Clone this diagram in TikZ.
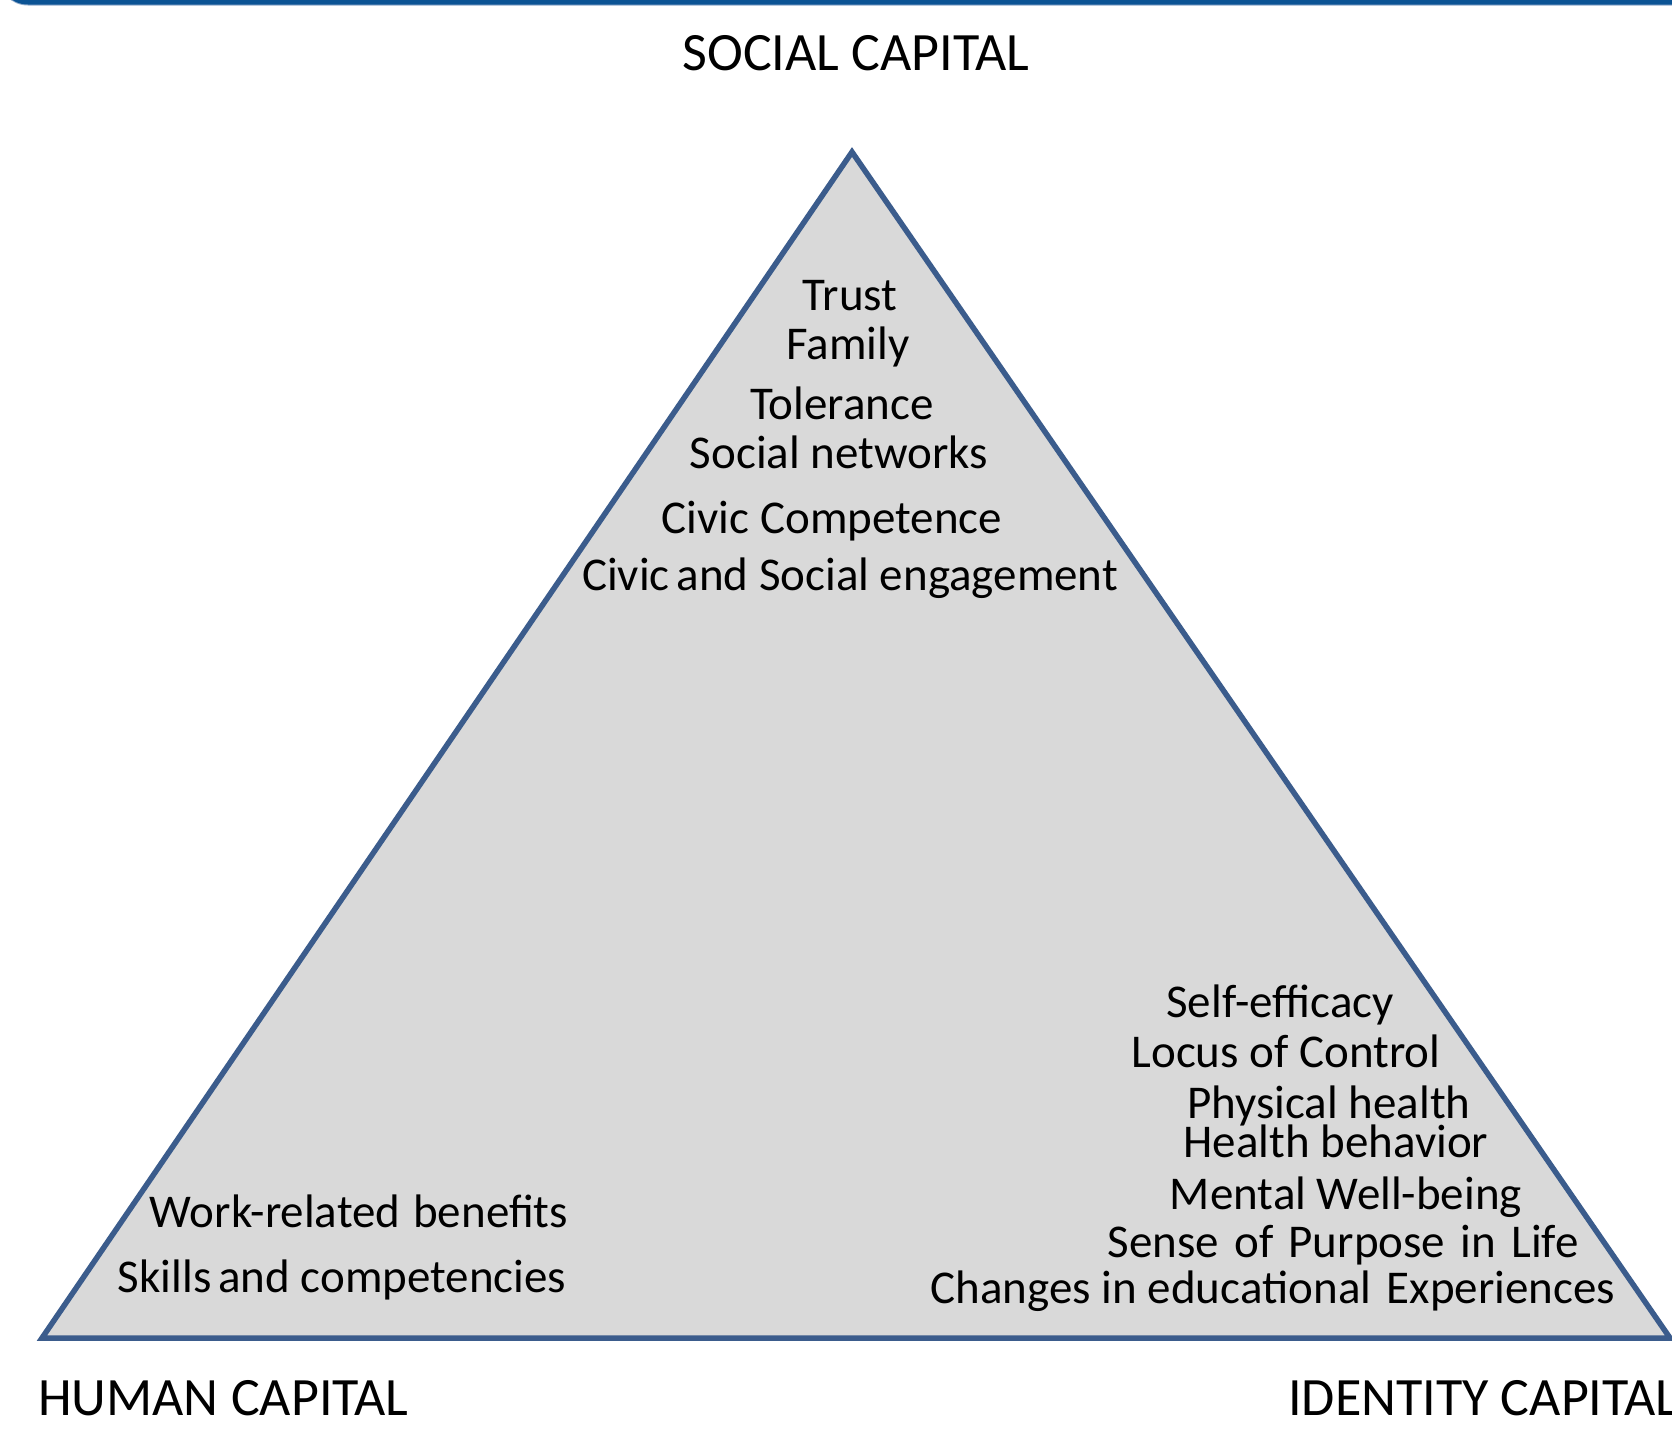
\documentclass[tikz,border=0pt]{standalone}
\usepackage{fontspec}
\setmainfont{Carlito}
\definecolor{bandblue}{HTML}{0B5394}
\definecolor{bandlight}{HTML}{8FAACB}
\definecolor{edgeblue}{HTML}{3B5C8C}
\definecolor{fillgray}{HTML}{D9D9D9}
\begin{document}
\begin{tikzpicture}[x=1pt,y=-1pt,
  item/.style={anchor=base,inner sep=0pt,font=\fontsize{47}{56}\selectfont},
  capital/.style={anchor=base west,inner sep=0pt,font=\fontsize{54}{64}\selectfont},
  tri/.style={fill=fillgray,draw=edgeblue,line width=5.5pt,line join=miter}]
\useasboundingbox (0,0) rectangle (1672,1430);
\fill[white] (0,0) rectangle (1672,1430);
% top band
\fill[bandlight, rounded corners=30pt] (-2,-80) rectangle (1720,5.5);
\fill[bandblue, rounded corners=30pt] (-2,-80) rectangle (1720,4.5);
% triangle
\coordinate (apex) at (852,152);
\coordinate (bl) at (42,1338);
\coordinate (br) at (1670,1338);
\path[tri] (apex) -- (bl) -- (br) -- cycle;
% titles
\node[anchor=base,inner sep=0pt,font=\fontsize{54}{64}\selectfont] (social) at (856,70) {SOCIAL CAPITAL};
\node[capital] (human) at (38,1415) {HUMAN CAPITAL};
\node[capital] (identity) at (1288,1415) {IDENTITY CAPITAL};
% social capital items
\node[item] (trust) at (850,310) {Trust};
\node[item] (family) at (848,359) {Family};
\node[item] (tolerance) at (842,419) {Tolerance};
\node[item] (networks) at (839,468) {Social networks};
\node[item] (civcomp) at (832,533) {Civic Competence};
\node[item] (civeng) at (850,590) {Civic\hspace{-0.08em} and Social engagement};
% identity capital items
\node[item] (selfeff) at (1280,1017) {Self-efficacy};
\node[item] (locus) at (1286,1067) {Locus of Control};
\node[item] (phys) at (1329,1118) {Physical health};
\node[item] (behav) at (1336,1157) {Health behavior};
\node[item] (mental) at (1346,1209) {Mental Well-being};
\node[item] (purpose) at (1343,1257) {Sense\hspace{0.1em} of\hspace{0.1em} Purpose\hspace{0.1em} in\hspace{0.1em} Life};
\node[item] (changes) at (1273,1303) {Changes in educa\kern0pt tional\hspace{0.1em} Experiences};
% human capital items
\node[item] (work) at (359,1227) {Work-related\hspace{0.05em} benefits};
\node[item] (skills) at (342,1292) {Skills\hspace{-0.08em} and competencies};
\end{tikzpicture}
\end{document}
